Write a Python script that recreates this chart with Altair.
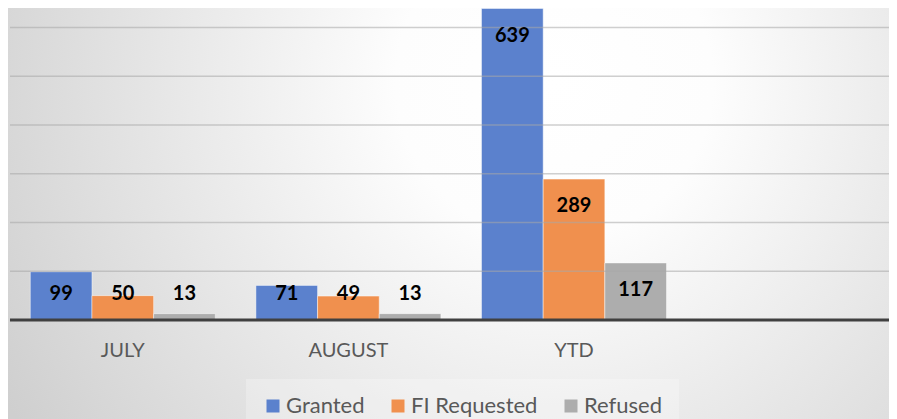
import altair as alt
import pandas as pd

categories = ["JULY", "AUGUST", "YTD"]
series = ["Granted", "FI Requested", "Refused"]
granted = [99, 71, 639]
fi_requested = [50, 49, 289]
refused = [13, 13, 117]
colors = ["#5b81cd", "#f0904e", "#adadad"]
grid_values = [100, 200, 300, 400, 500, 600]

rows = []
for i, c in enumerate(categories):
    for s, vals in zip(series, [granted, fi_requested, refused]):
        rows.append({"period": c, "series": s, "value": vals[i]})
df = pd.DataFrame(rows)

W, H = 879, 312
PAD_BOTTOM = 99

yscale = alt.Scale(domain=[0, 640], nice=False)
xscale = alt.Scale(range=[0, 676.8], paddingInner=0.18, paddingOuter=0.09)
xaxis = alt.Axis(title=None, labelFont="Lato", labelFontSize=20, labelColor="#595959",
                 ticks=False, tickSize=0, domain=False, grid=False, labelPadding=20,
                 labelAngle=0, zindex=1)
xoff = alt.XOffset("series:N", sort=series, scale=alt.Scale(paddingInner=0, paddingOuter=0))

bg = alt.Chart(pd.DataFrame({"k": [0]})).mark_rect(
    color={
        "gradient": "radial",
        "x1": 0.62, "y1": 0.35, "r1": 0,
        "x2": 0.62, "y2": 0.35, "r2": 0.72,
        "stops": [
            {"offset": 0, "color": "#ffffff"},
            {"offset": 0.25, "color": "#fdfdfd"},
            {"offset": 1, "color": "#cfcfcf"},
        ],
    }
).encode(x=alt.value(-2), x2=alt.value(W), y=alt.value(0), y2=alt.value(H + PAD_BOTTOM))

bars = alt.Chart(df).mark_bar(stroke="white", strokeOpacity=0.45, strokeWidth=1).encode(
    x=alt.X("period:N", sort=categories, scale=xscale, axis=xaxis),
    xOffset=xoff,
    y=alt.Y("value:Q", scale=yscale, axis=None),
    color=alt.Color(
        "series:N", sort=series,
        scale=alt.Scale(domain=series, range=colors),
        legend=alt.Legend(
            title=None, orient="none", legendX=236, legendY=371,
            direction="horizontal", symbolType="square", symbolSize=169,
            symbolStrokeWidth=0, labelFont="Lato", labelFontSize=22,
            labelColor="#595959", labelOffset=2, columnPadding=22,
            fillColor="rgba(255,255,255,0.25)", padding=16,
        ),
    ),
)

grid = alt.Chart(pd.DataFrame({"g": grid_values})).mark_rule(
    color="#a8a8a8", opacity=0.55, strokeWidth=1.5
).encode(
    y=alt.Y("g:Q", scale=yscale, axis=None),
    x=alt.value(0), x2=alt.value(W),
)

labels = alt.Chart(df).transform_calculate(
    labelpos="max(datum.value - 56, 53)"
).mark_text(font="Lato", fontWeight="bold", fontSize=20, color="black", baseline="middle").encode(
    x=alt.X("period:N", sort=categories, scale=xscale, axis=xaxis),
    xOffset=xoff,
    y=alt.Y("labelpos:Q", scale=yscale, axis=None),
    text=alt.Text("value:Q"),
)

baseline = alt.Chart(pd.DataFrame({"v": [0]})).mark_rule(color="#404040", strokeWidth=3).encode(
    y=alt.Y("v:Q", scale=yscale, axis=None),
    x=alt.value(0), x2=alt.value(W),
)

chart = alt.layer(bg, bars, grid, labels, baseline).properties(
    width=W, height=H,
    autosize=alt.AutoSizeParams(type="none"),
    padding={"left": 2, "top": 0, "right": 0, "bottom": PAD_BOTTOM},
).configure_view(stroke=None)

chart.save("out.html", embed_options={"renderer": "svg", "actions": False})
